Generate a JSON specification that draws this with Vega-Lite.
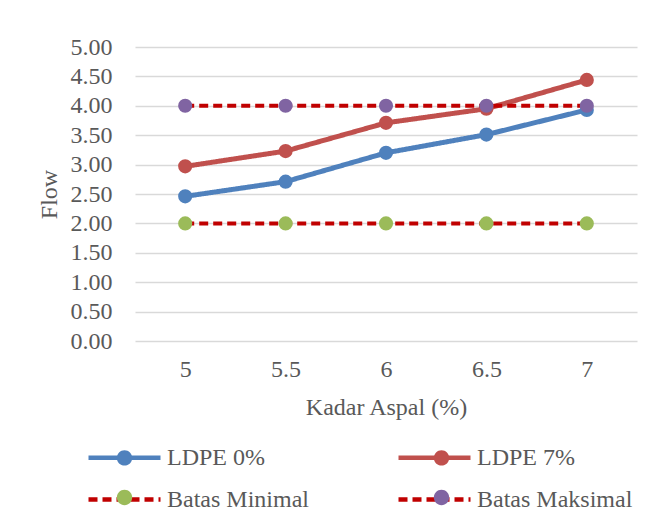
{
  "$schema": "https://vega.github.io/schema/vega-lite/v6.json",
  "width": 502,
  "height": 294,
  "autosize": {"type": "none"},
  "padding": {"left": 135, "top": 47, "right": 29, "bottom": 172},
  "config": {
    "font": "Liberation Serif",
    "view": {"stroke": null},
    "axis": {
      "labelFont": "Liberation Serif",
      "titleFont": "Liberation Serif",
      "labelColor": "#595959",
      "titleColor": "#595959",
      "labelFontSize": 24,
      "titleFontSize": 24,
      "titleFontWeight": "normal",
      "gridColor": "#D9D9D9",
      "gridWidth": 1.3,
      "domain": false,
      "ticks": false
    }
  },
  "data": {
    "values": [
      {"x": "5", "series": "LDPE 0%", "flow": 2.46},
      {"x": "5.5", "series": "LDPE 0%", "flow": 2.71},
      {"x": "6", "series": "LDPE 0%", "flow": 3.2},
      {"x": "6.5", "series": "LDPE 0%", "flow": 3.51},
      {"x": "7", "series": "LDPE 0%", "flow": 3.93},
      {"x": "5", "series": "LDPE 7%", "flow": 2.97},
      {"x": "5.5", "series": "LDPE 7%", "flow": 3.23},
      {"x": "6", "series": "LDPE 7%", "flow": 3.71},
      {"x": "6.5", "series": "LDPE 7%", "flow": 3.95},
      {"x": "7", "series": "LDPE 7%", "flow": 4.44},
      {"x": "5", "series": "Batas Minimal", "flow": 2},
      {"x": "5.5", "series": "Batas Minimal", "flow": 2},
      {"x": "6", "series": "Batas Minimal", "flow": 2},
      {"x": "6.5", "series": "Batas Minimal", "flow": 2},
      {"x": "7", "series": "Batas Minimal", "flow": 2},
      {"x": "5", "series": "Batas Maksimal", "flow": 4},
      {"x": "5.5", "series": "Batas Maksimal", "flow": 4},
      {"x": "6", "series": "Batas Maksimal", "flow": 4},
      {"x": "6.5", "series": "Batas Maksimal", "flow": 4},
      {"x": "7", "series": "Batas Maksimal", "flow": 4}
    ]
  },
  "encoding": {
    "x": {
      "field": "x",
      "type": "ordinal",
      "scale": {"type": "point", "padding": 0.5},
      "axis": {"title": "Kadar Aspal (%)", "labelAngle": 0, "labelPadding": 16, "titlePadding": 14, "grid": false}
    },
    "y": {
      "field": "flow",
      "type": "quantitative",
      "scale": {"domain": [0, 5], "nice": false, "zero": true},
      "axis": {"title": "Flow", "values": [0, 0.5, 1, 1.5, 2, 2.5, 3, 3.5, 4, 4.5, 5], "format": ".2f", "labelPadding": 23, "titlePadding": 9, "grid": true}
    }
  },
  "layer": [
    {
      "transform": [{"filter": {"field": "series", "oneOf": ["LDPE 0%", "LDPE 7%"]}}],
      "mark": {"type": "line", "strokeWidth": 5},
      "encoding": {
        "stroke": {
          "field": "series",
          "type": "nominal",
          "scale": {"domain": ["LDPE 0%", "LDPE 7%", "Batas Minimal", "Batas Maksimal"], "range": ["#4F81BD", "#C0504D", "#C00000", "#C00000"]},
          "legend": {"orient": "none", "direction": "horizontal", "gridAlign": "all", "legendX": -25, "legendY": 396, "columns": 2, "title": null, "padding": 0, "symbolType": "M-3,0L3,0", "symbolSize": 576, "symbolStrokeWidth": 4.5, "labelFont": "Liberation Serif", "labelFontSize": 24, "labelColor": "#595959", "labelOffset": 28, "columnPadding": 66, "rowPadding": 15, "labelLimit": 400}
        },
        "strokeDash": {
          "field": "series",
          "type": "nominal",
          "scale": {"domain": ["LDPE 0%", "LDPE 7%", "Batas Minimal", "Batas Maksimal"], "range": [[1, 0], [1, 0], [9, 5], [9, 5]]},
          "legend": {"orient": "none", "direction": "horizontal", "gridAlign": "all", "legendX": -25, "legendY": 396, "columns": 2, "title": null, "padding": 0, "symbolType": "M-3,0L3,0", "symbolSize": 576, "symbolStrokeWidth": 4.5, "labelFont": "Liberation Serif", "labelFontSize": 24, "labelColor": "#595959", "labelOffset": 28, "columnPadding": 66, "rowPadding": 15, "labelLimit": 400}
        }
      }
    },
    {
      "transform": [{"filter": {"field": "series", "oneOf": ["Batas Minimal", "Batas Maksimal"]}}],
      "mark": {"type": "line", "strokeWidth": 4},
      "encoding": {
        "stroke": {"field": "series", "type": "nominal"},
        "strokeDash": {"field": "series", "type": "nominal"}
      }
    },
    {
      "mark": {"type": "point", "filled": true, "size": 200, "opacity": 1, "strokeWidth": 0},
      "encoding": {
        "fill": {
          "field": "series",
          "type": "nominal",
          "sort": ["LDPE 0%", "LDPE 7%", "Batas Minimal", "Batas Maksimal"],
          "scale": {"range": ["#4F81BD", "#C0504D", "#9BBB59", "#8064A2"]},
          "legend": {"orient": "none", "direction": "horizontal", "gridAlign": "all", "legendX": -25, "legendY": 396, "columns": 2, "title": null, "padding": 0, "symbolType": "M-0.64,0A0.64,0.64,0,1,0,0.64,0A0.64,0.64,0,1,0,-0.64,0Z", "symbolSize": 576, "symbolStrokeWidth": 4.5, "symbolStrokeColor": "transparent", "symbolOpacity": 1, "labelExpr": "''", "labelFontSize": 24, "labelOffset": 28, "columnPadding": 257, "rowPadding": 5, "labelLimit": 400, "zindex": 2}
        }
      }
    }
  ]
}
